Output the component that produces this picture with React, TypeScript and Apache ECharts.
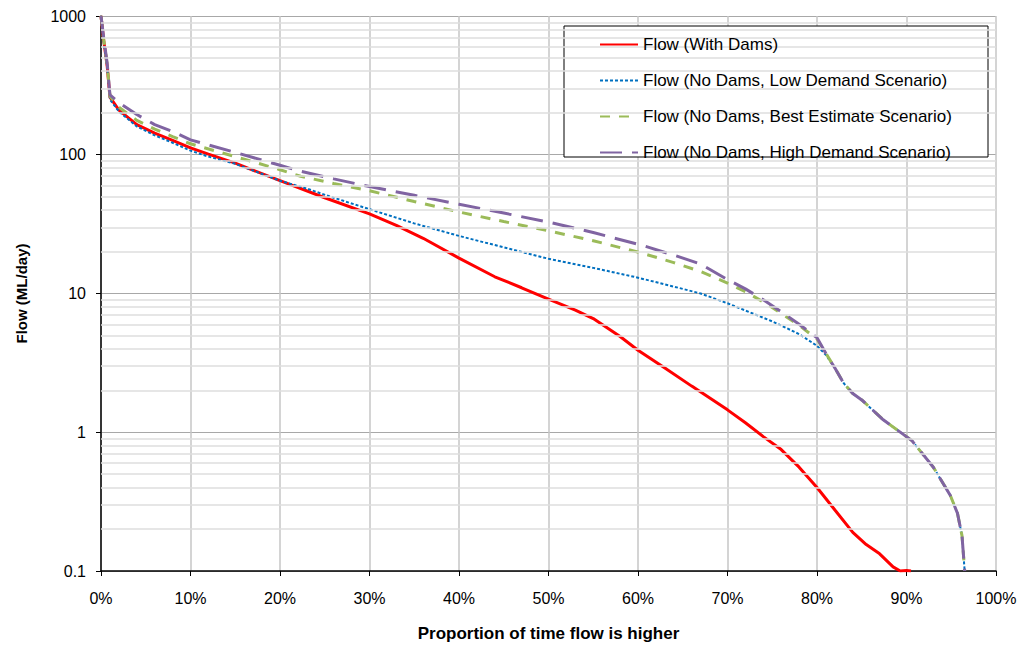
import React, { useEffect, useRef } from "react";
import * as echarts from "echarts";

const seriesNames = [
  "Flow (With Dams)",
  "Flow (No Dams, Low Demand Scenario)",
  "Flow (No Dams, Best Estimate Scenario)",
  "Flow (No Dams, High Demand Scenario)",
];

const withDamsX = [0, 0.3, 0.7, 1, 2, 4, 6, 8, 10, 12, 15, 20, 25, 30, 33, 36, 40, 44, 47, 50, 53, 55, 58, 60, 63, 66, 70, 72, 74, 76, 78, 80, 82, 84, 85.5, 87, 88.5, 89.3, 90, 90.5];
const withDamsY = [1000, 670, 430, 260, 210, 165, 143, 127, 112, 101, 87, 65, 49, 37.5, 31, 25, 18, 13.2, 11, 9.1, 7.6, 6.6, 4.9, 3.9, 2.9, 2.15, 1.45, 1.17, 0.93, 0.75, 0.56, 0.4, 0.275, 0.19, 0.155, 0.133, 0.107, 0.1, 0.101, 0.1];

const lowX = [0, 0.3, 0.7, 1, 2, 4, 6, 8, 10, 12, 15, 20, 23, 26, 30, 35, 40, 45, 50, 55, 60, 65, 67, 70, 73, 75, 78, 80, 81];
const lowY = [1000, 650, 420, 250, 205, 160, 138, 122, 107, 97, 86, 65, 57, 49, 40.5, 32, 26, 21.5, 17.8, 15.3, 13, 10.8, 10, 8.5, 7.1, 6.3, 5.1, 4.2, 3.6];

const bestX = [0, 0.3, 0.7, 1, 2, 4, 6, 8, 10, 15, 20, 22.3, 26, 30, 35, 40, 45, 50, 55, 60.5, 64, 67, 70, 72, 74, 76, 78, 80, 81];
const bestY = [1000, 680, 440, 265, 220, 177, 153, 135, 120, 97, 78, 70, 62, 55, 46, 38.7, 33, 28.3, 24, 19.5, 16.7, 14.4, 11.9, 10.3, 8.7, 7.2, 5.9, 4.7, 3.7];

const highX = [0, 0.3, 0.7, 1, 2, 4, 6, 8, 10, 15, 20, 22.3, 26, 30, 35, 40, 45, 50, 55, 60.5, 64, 67, 70, 72, 74, 76, 78, 80, 81];
const highY = [1000, 700, 450, 270, 237, 195, 165, 147, 128, 104, 84, 76, 67, 59, 51, 44, 38, 32.7, 27.5, 22.2, 18.9, 16.3, 12.6, 10.8, 9, 7.4, 6, 4.8, 3.7];

// shared tail of the three "No Dams" curves
const tailX = [82, 83, 84, 85, 87.4, 90.6, 93, 94.9, 95.7, 96.2, 96.5];
const tailY = [2.9, 2.25, 1.9, 1.71, 1.23, 0.87, 0.56, 0.35, 0.26, 0.18, 0.1];

const decades = [0.1, 1, 10, 100];
const minorMultipliers = [2, 3, 4, 5, 6, 7, 8, 9];

const pairs = (xs: number[], ys: number[]) => xs.map((x, i) => [x, ys[i]]);

export default function App() {
  const ref = useRef<HTMLDivElement>(null);

  useEffect(() => {
    document.body.style.margin = "0";
    if (!ref.current) return;
    const chart = echarts.init(ref.current, null, { renderer: "svg" });
    const font = "Liberation Sans, Arial, sans-serif";
    const minorValues: number[] = [];
    decades.forEach((d) => minorMultipliers.forEach((m) => minorValues.push(d * m)));

    const option: any = {
      animation: false,
      backgroundColor: "#ffffff",
      textStyle: { fontFamily: font },
      grid: { left: 101, right: 28, top: 16, bottom: 73, containLabel: false },
      xAxis: {
        type: "value",
        min: 0,
        max: 100,
        interval: 10,
        name: "Proportion of time flow is higher",
        nameLocation: "middle",
        nameGap: 54,
        nameTextStyle: { fontFamily: font, fontSize: 17, fontWeight: "bold", color: "#000" },
        axisLine: { show: true, onZero: false, lineStyle: { color: "#000", width: 1.5 } },
        axisTick: { show: true, length: 5, lineStyle: { color: "#000" } },
        axisLabel: { formatter: "{value}%", fontSize: 16, color: "#000", margin: 19, fontFamily: font },
        splitLine: { show: true, lineStyle: { color: "#c6c6c6", width: 1.5 } },
      },
      yAxis: {
        type: "log",
        logBase: 10,
        min: 0.1,
        max: 1000,
        name: "Flow (ML/day)",
        nameLocation: "middle",
        nameGap: 72,
        nameTextStyle: { fontFamily: font, fontSize: 15, fontWeight: "bold", color: "#000" },
        axisLine: { show: true, onZero: false, lineStyle: { color: "#000", width: 1.5 } },
        axisTick: { show: true, length: 5, lineStyle: { color: "#000" } },
        axisLabel: {
          fontSize: 16,
          color: "#000",
          margin: 15,
          fontFamily: font,
          formatter: (v: number) => String(parseFloat(v.toPrecision(6))),
        },
        splitLine: { show: true, lineStyle: { color: "#a8a8a8", width: 1.2 } },
      },
      legend: {
        data: seriesNames,
        orient: "vertical",
        left: 599,
        top: 36,
        padding: 0,
        itemWidth: 38,
        itemHeight: 14,
        itemGap: 19,
        itemStyle: { opacity: 0, borderWidth: 0 },
        textStyle: { fontSize: 17, color: "#000", fontFamily: font },
        selectedMode: false,
        z: 10,
      },
      graphic: [
        {
          type: "rect",
          z: 5,
          shape: { x: 564, y: 26, width: 424, height: 131 },
          style: { fill: "#fff", stroke: "#000", lineWidth: 1 },
        },
      ],
      series: [
        {
          name: "minor",
          type: "line",
          data: [[0, 1000]],
          showSymbol: false,
          symbol: "none",
          silent: true,
          z: 1,
          lineStyle: { opacity: 0 },
          markLine: {
            silent: true,
            symbol: "none",
            label: { show: false },
            animation: false,
            lineStyle: { color: "#dedede", width: 1.5, type: "solid" },
            data: minorValues.map((v) => ({ yAxis: v })),
          },
        },
        {
          name: seriesNames[0],
          type: "line",
          data: pairs(withDamsX, withDamsY),
          symbol: "none",
          showSymbol: false,
          z: 3,
          lineStyle: { color: "#ff0000", width: 3, type: "solid" },
          itemStyle: { color: "#ff0000" },
        },
        {
          name: seriesNames[1],
          type: "line",
          data: pairs(lowX.concat(tailX), lowY.concat(tailY)),
          symbol: "none",
          showSymbol: false,
          z: 3,
          lineStyle: { color: "#0070c0", width: 2, type: [3, 2] },
          itemStyle: { color: "#0070c0" },
        },
        {
          name: seriesNames[2],
          type: "line",
          data: pairs(bestX.concat(tailX), bestY.concat(tailY)),
          symbol: "none",
          showSymbol: false,
          z: 3,
          lineStyle: { color: "#9bbb59", width: 3, type: [10, 9] },
          itemStyle: { color: "#9bbb59" },
        },
        {
          name: seriesNames[3],
          type: "line",
          data: pairs(highX.concat(tailX), highY.concat(tailY)),
          symbol: "none",
          showSymbol: false,
          z: 3,
          lineStyle: { color: "#8064a2", width: 3, type: [22, 10] },
          itemStyle: { color: "#8064a2" },
        },
      ],
    };
    chart.setOption(option);
    return () => chart.dispose();
  }, []);

  return <div ref={ref} style={{ width: 1024, height: 647 }} />;
}
